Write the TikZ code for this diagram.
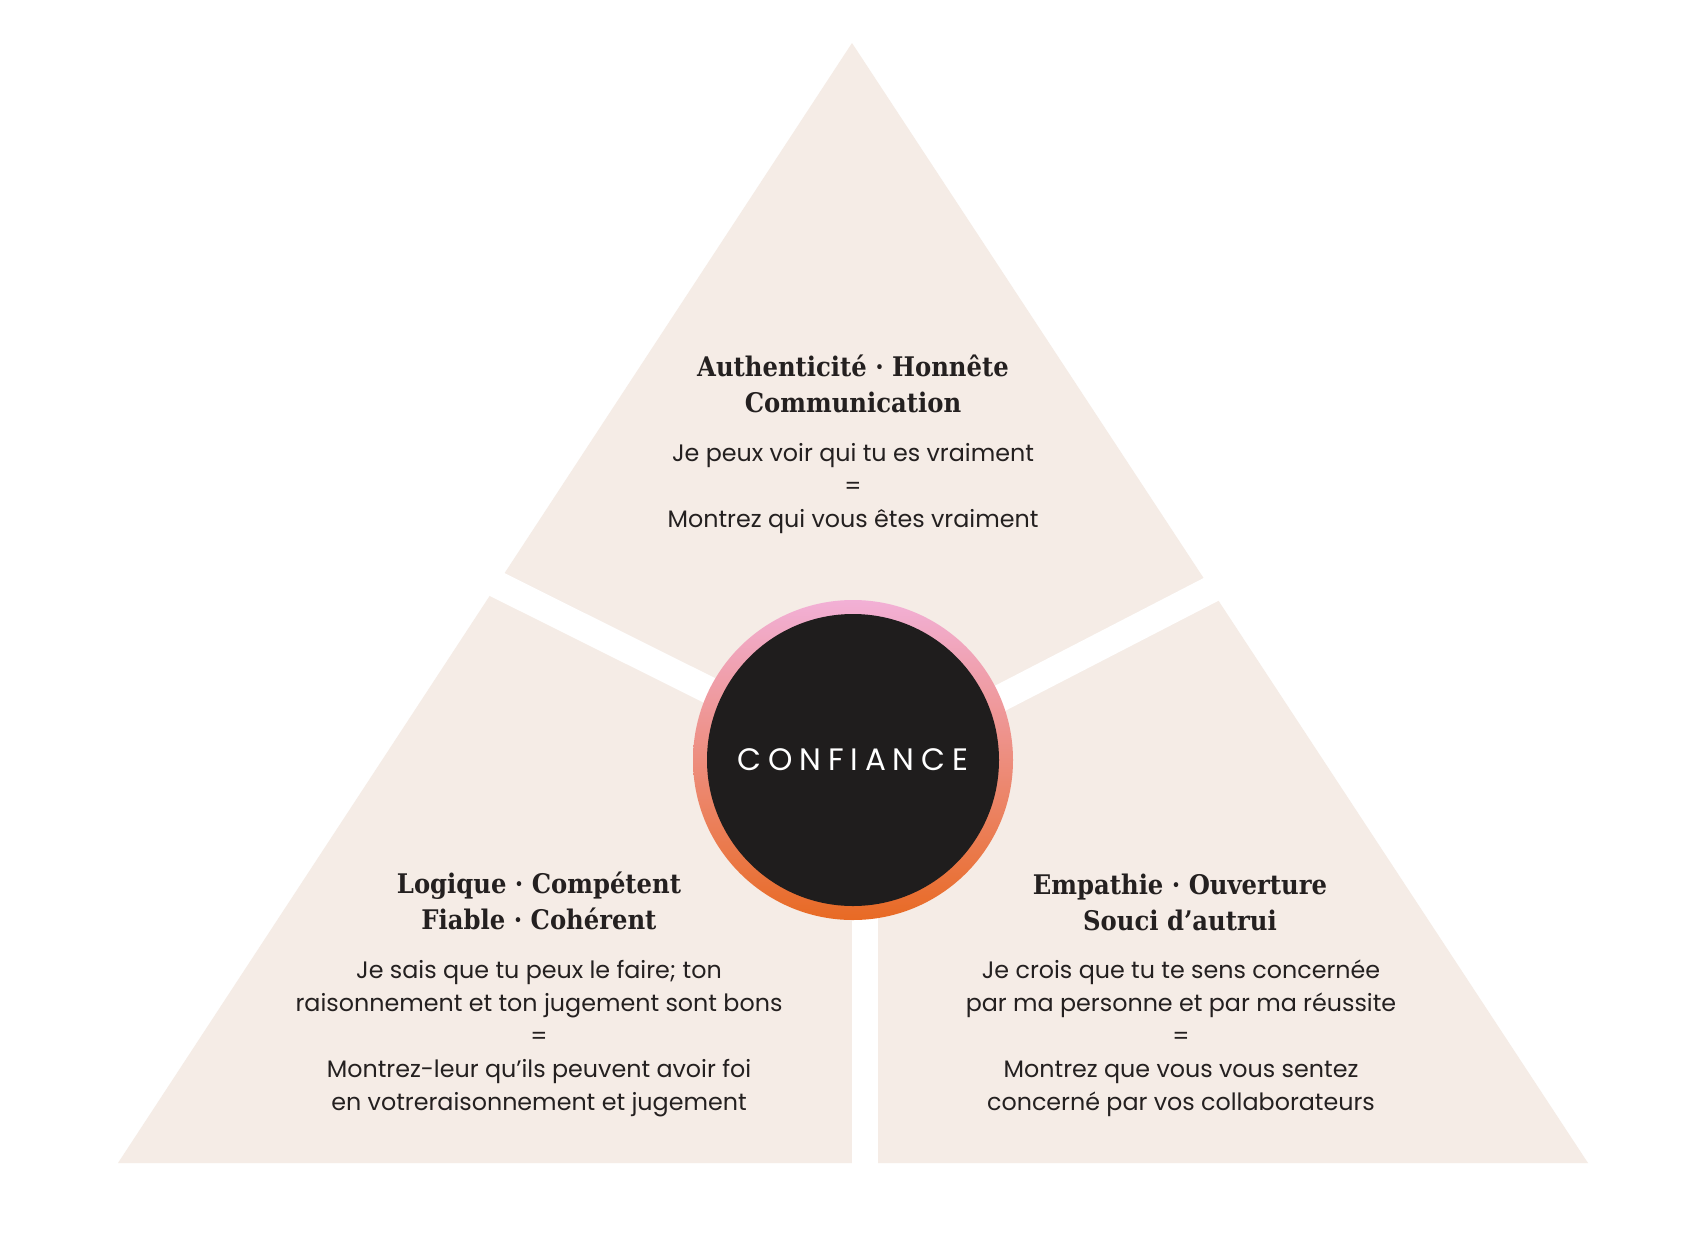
\documentclass[tikz,border=0pt]{standalone}
\usepackage{fontspec}
\setmainfont{Poppins}
\newfontfamily\headfont{DejaVu Serif Condensed}
\usetikzlibrary{positioning}

\definecolor{sand}{RGB}{245,236,230}
\definecolor{ink}{RGB}{36,32,32}
\definecolor{coal}{RGB}{31,29,29}
\definecolor{ringpink}{RGB}{242,176,214}
\definecolor{ringmid}{RGB}{238,162,184}
\definecolor{ringorange}{RGB}{232,106,36}

\tikzset{
	gap/.style = {white, line width=27pt},
	headtxt/.style = {font=\headfont\bfseries\fontsize{27}{36}\selectfont, text=ink, align=center, inner sep=0pt, anchor=base},
	bodytxt/.style = {font=\fontsize{23.8}{33}\selectfont, text=ink, align=center, inner sep=0pt, anchor=base},
}

\begin{document}
\begin{tikzpicture}[x=1pt, y=-1pt]
	\useasboundingbox (0,0) rectangle (1706,1251);
	\fill[white] (0,0) rectangle (1706,1251);

	% big triangle
	\coordinate (apex) at (852,43);
	\coordinate (bl) at (118,1163);
	\coordinate (br) at (1588,1163);
	\fill[sand] (apex) -- (br) -- (bl) -- cycle;

	% white cuts between the three parts
	\coordinate (split) at (865,768);
	\coordinate (cutl) at (440,556);
	\coordinate (cutr) at (1266,561);
	\coordinate (cutb) at (865,1190);
	\draw[gap] (split) -- (cutl);
	\draw[gap] (split) -- (cutr);
	\draw[gap, line width=26pt] (split) -- (cutb);

	% centre
	\node[circle, minimum size=320pt, inner sep=0pt, top color=ringpink, middle color=ringmid, bottom color=ringorange] (ring) at (853,760) {};
	\node[circle, minimum size=292pt, inner sep=0pt, fill=coal, text=white, font=\fontsize{31}{31}\selectfont\addfontfeatures{LetterSpace=22}] (confiance) at (ring.center) {CONFIANCE};

	% top part (anchor = baseline of last line)
	\node[headtxt] (tophead) at (853,412) {Authenticité · Honnête\\Communication};
	\node[bodytxt] (topbody) at (853,527) {Je peux voir qui tu es vraiment\\=\\Montrez qui vous êtes vraiment};

	% left part
	\node[headtxt] (lefthead) at (539,929) {Logique · Compétent\\Fiable · Cohérent};
	\node[bodytxt] (leftbody) at (539,1110) {Je sais que tu peux le faire; ton\\raisonnement et ton jugement sont bons\\=\\Montrez-leur qu’ils peuvent avoir foi\\en votreraisonnement et jugement};

	% right part
	\node[headtxt] (righthead) at (1180,930) {Empathie · Ouverture\\Souci d’autrui};
	\node[bodytxt] (rightbody) at (1181,1110) {Je crois que tu te sens concernée\\par ma personne et par ma réussite\\=\\Montrez que vous vous sentez\\concerné par vos collaborateurs};
\end{tikzpicture}
\end{document}
